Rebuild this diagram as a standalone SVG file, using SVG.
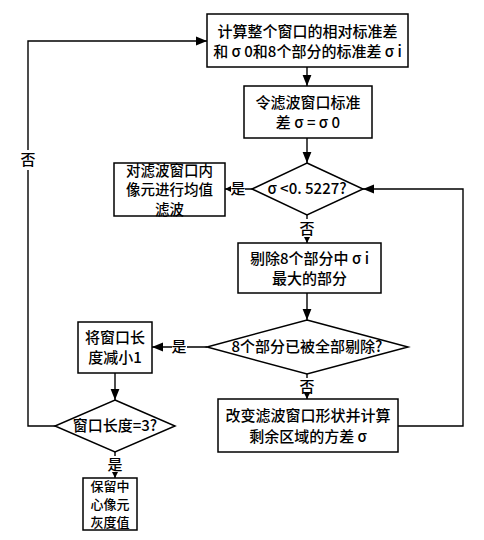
<svg xmlns="http://www.w3.org/2000/svg" width="484" height="540" viewBox="0 0 484 540">
<style>
.n{fill:#fff;stroke:#000;stroke-width:1.5}
.t{font-family:"Noto Sans CJK SC","Liberation Sans",sans-serif;font-size:15px;font-weight:500;text-anchor:middle;fill:#000}
.m{font-size:14.5px}
.s{font-size:13px}
.c{fill:none;stroke:#000;stroke-width:1.4}
</style>
<defs>
<marker id="a" viewBox="0 0 10 10" refX="10" refY="5" markerWidth="6" markerHeight="6" markerUnits="userSpaceOnUse" orient="auto"><path d="M0,0L10,5L0,10z" fill="#000"/></marker>
<marker id="b" viewBox="0 0 10 10" refX="10" refY="5" markerWidth="11" markerHeight="11" markerUnits="userSpaceOnUse" orient="auto"><path d="M0,1L10,5L0,9z" fill="#000"/></marker>
</defs>
<g id="connectors">
<path class="c" d="M307,67V86" marker-end="url(#b)"/>
<path class="c" d="M307,138V163" marker-end="url(#b)"/>
<path class="c" d="M252,189H245M231,189H225" marker-end="url(#a)"/>
<path class="c" d="M307,215V219M307,238V243" marker-end="url(#a)"/>
<path class="c" d="M307,293V320" marker-end="url(#b)"/>
<path class="c" d="M207,347H187M172,347H152" marker-end="url(#b)"/>
<path class="c" d="M307,374V378M307,396V399" marker-end="url(#a)"/>
<path class="c" d="M398,426H463V189H363" marker-end="url(#b)"/>
<path class="c" d="M115,373V400" marker-end="url(#b)"/>
<path class="c" d="M55,426H28V170M28,150V41H207" marker-end="url(#b)"/>
<path class="c" d="M115,452V456M115,474V478" marker-end="url(#a)"/>
<text class="t" x="238" y="194">是</text>
<text class="t" x="307" y="234">否</text>
<text class="t" x="179" y="352">是</text>
<text class="t" x="307" y="392">否</text>
<text class="t" x="28" y="165">否</text>
<text class="t" x="115" y="470">是</text>
</g>
<g id="n1"><rect class="n" x="207" y="14" width="201" height="53"/><text class="t" x="307.5" y="37">计算整个窗口的相对标准差</text><text class="t" x="307.5" y="57">和 σ 0和8个部分的标准差 σ i</text></g>
<g id="n2"><rect class="n" x="244" y="86" width="128" height="52"/><text class="t" x="308" y="108">令滤波窗口标准</text><text class="t" x="308" y="128">差 σ = σ 0</text></g>
<g id="n3"><path class="n" d="M307,163L363,189L307,215L252,189z"/><text class="t" x="307" y="194">σ &lt;0. 5227?</text></g>
<g id="n4"><rect class="n" x="114" y="163" width="111" height="53"/><text class="t m" x="169.5" y="175.5">对滤波窗口内</text><text class="t m" x="169.5" y="195">像元进行均值</text><text class="t m" x="169.5" y="214.5">滤波</text></g>
<g id="n5"><rect class="n" x="238" y="243" width="143" height="50"/><text class="t" x="309.5" y="264">剔除8个部分中 σ i</text><text class="t" x="309.5" y="284">最大的部分</text></g>
<g id="n6"><path class="n" d="M307,320L408,347L307,374L207,347z"/><text class="t" x="307" y="352">8个部分已被全部剔除?</text></g>
<g id="n7"><rect class="n" x="78" y="322" width="74" height="51"/><text class="t" x="115" y="343">将窗口长</text><text class="t" x="115" y="363">度减小1</text></g>
<g id="n8"><rect class="n" x="218" y="399" width="180" height="53"/><text class="t" x="308" y="421">改变滤波窗口形状并计算</text><text class="t" x="308" y="442">剩余区域的方差 σ</text></g>
<g id="n9"><path class="n" d="M115,400L175,426L115,452L55,426z"/><text class="t" x="115" y="431">窗口长度=3?</text></g>
<g id="n10"><rect class="n" x="83" y="478" width="54" height="52"/><text class="t s" x="110" y="491">保留中</text><text class="t s" x="110" y="509">心像元</text><text class="t s" x="110" y="527">灰度值</text></g>
</svg>
